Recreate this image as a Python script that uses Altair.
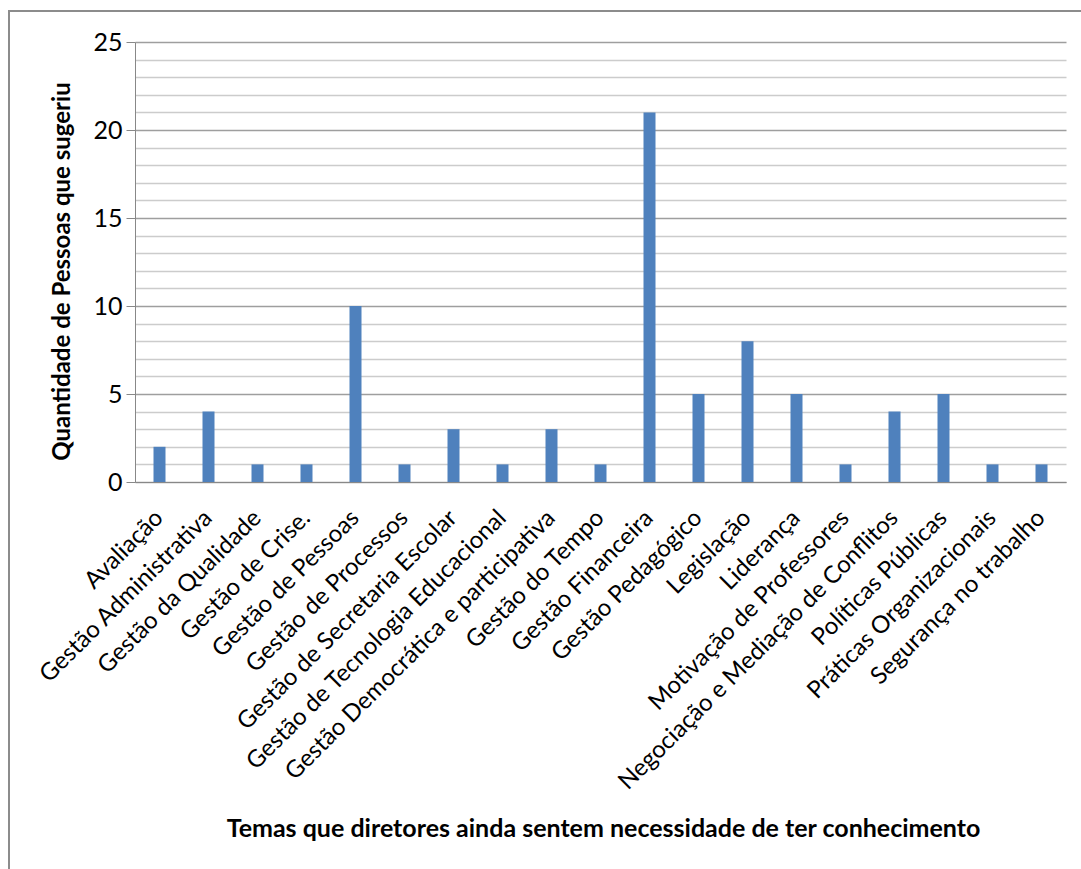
import altair as alt
import pandas as pd

temas = [
    "Avaliação",
    "Gestão Administrativa",
    "Gestão da Qualidade",
    "Gestão de Crise.",
    "Gestão de Pessoas",
    "Gestão de Processos",
    "Gestão de Secretaria Escolar",
    "Gestão de Tecnologia Educacional",
    "Gestão Democrática e participativa",
    "Gestão do Tempo",
    "Gestão Financeira",
    "Gestão Pedagógico",
    "Legislação",
    "Liderança",
    "Motivação de Professores",
    "Negociação e Mediação de Conflitos",
    "Políticas Públicas",
    "Práticas Organizacionais",
    "Segurança no trabalho",
]
quantidade = [2, 4, 1, 1, 10, 1, 3, 1, 3, 1, 21, 5, 8, 5, 1, 4, 5, 1, 1]
y_ticks = list(range(0, 26))

df = pd.DataFrame({"tema": temas, "quantidade": quantidade})

FONT = "Lato"
W, H = 931, 440
LEFT, TOP = 135, 42

bars = alt.Chart(df).mark_bar(size=12, color="#4F81BD").encode(
    x=alt.X(
        "tema:N",
        sort=temas,
        title="Temas que diretores ainda sentem necessidade de ter conhecimento",
        scale=alt.Scale(paddingInner=0, paddingOuter=0),
        axis=alt.Axis(
            labelAngle=-45,
            labelFontSize=24,
            labelFont=FONT,
            labelColor="#000000",
            labelAlign="right",
            labelBaseline="middle",
            labelPadding=32,
            labelLimit=0,
            ticks=False,
            domainColor="#888888",
            titleFont=FONT,
            titleFontSize=25,
            titleFontWeight="bold",
            titleColor="#000000",
            titleX=468,
            titleY=346,
            titleBaseline="middle",
            titleAlign="center",
        ),
    ),
    y=alt.Y(
        "quantidade:Q",
        title="Quantidade de Pessoas que sugeriu",
        scale=alt.Scale(domain=[0, 25], nice=False),
        axis=alt.Axis(
            values=y_ticks,
            labelExpr="datum.value % 5 === 0 ? datum.label : ''",
            labelFontSize=25,
            labelFont=FONT,
            labelColor="#000000",
            labelPadding=4,
            tickSize=9,
            tickColor={"condition": {"test": "datum.value % 5 === 0", "value": "#888888"}, "value": "transparent"},
            gridColor={"condition": {"test": "datum.value % 5 === 0", "value": "#9E9E9E"}, "value": "#CCCCCC"},
            gridWidth=1.5,
            domainColor="#888888",
            titleFont=FONT,
            titleFontSize=24,
            titleFontWeight="bold",
            titleColor="#000000",
            titleX=-73,
            titleY=229,
            titleBaseline="middle",
            titleAlign="center",
            titleAngle=270,
        ),
    ),
)

# outer frame around the whole chart area
frame = alt.Chart(pd.DataFrame({"k": [0]})).mark_rect(
    fill=None, stroke="#8C8C8C", strokeWidth=2
).encode(
    x=alt.value(9 - LEFT),
    x2=alt.value(1081 - LEFT + 10),
    y=alt.value(11 - TOP),
    y2=alt.value(869 - TOP + 10),
)

chart = (
    alt.layer(frame, bars)
    .properties(
        width=W,
        height=H,
        autosize=alt.AutoSizeParams(type="none"),
        padding={"left": LEFT, "top": TOP, "right": 1081 - LEFT - W, "bottom": 869 - TOP - H},
        background="#FFFFFF",
    )
    .configure_view(stroke=None)
)

chart.save("out.html", embed_options={"renderer": "svg", "actions": False})
